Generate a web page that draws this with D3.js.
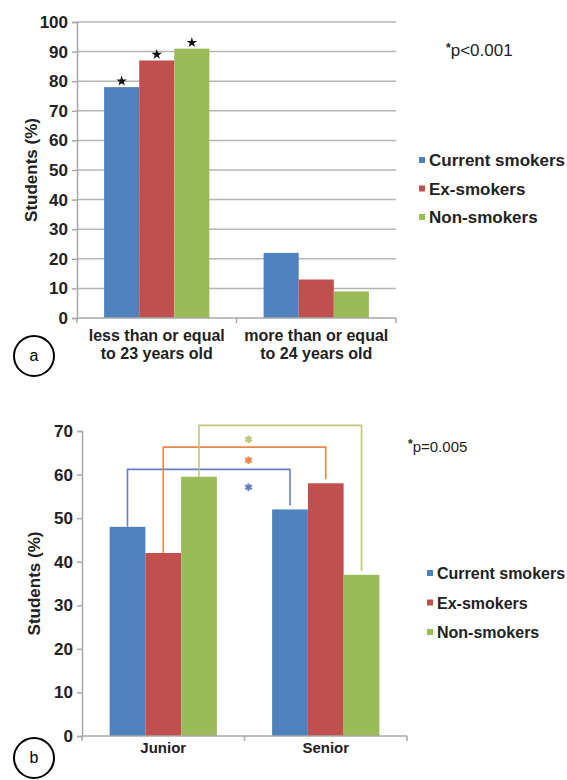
<!DOCTYPE html>
<html>
<head>
<meta charset="utf-8">
<script src="https://cdn.jsdelivr.net/npm/d3@7"></script>
<style>
  body { margin: 0; background: #fff; }
  text { font-family: "Liberation Sans", Arial, sans-serif; fill: #222; }
</style>
</head>
<body>
<svg id="graph" width="567" height="780"></svg>
<script>
// Chart values
var seriesNames = ["Current smokers", "Ex-smokers", "Non-smokers"];
var seriesColors = ["#4f81bd", "#c0504d", "#9bbb59"];

// Panel a: age groups
var categoriesA = ["less than or equal|to 23 years old", "more than or equal|to 24 years old"];
var currentA = [78, 22];
var exA = [87, 13];
var nonA = [91, 9];
var ticksA = [0, 10, 20, 30, 40, 50, 60, 70, 80, 90, 100];

// Panel b: year of study
var categoriesB = ["Junior", "Senior"];
var currentB = [48, 52];
var exB = [42, 58];
var nonB = [59.5, 37];
var ticksB = [0, 10, 20, 30, 40, 50, 60, 70];
// bracket heights (% units) for each series comparison, and star height
var bracketB = [61.2, 66.3, 71.3];
var bracketStarB = [57.1, 63.3, 68.1];
var bracketColors = ["#6a7fc0", "#e8894a", "#c2c67a"];

var svg = d3.select("#graph");

// Draw one grouped bar panel
function panel(opt) {
    var g = svg.append("g");
    var rows = opt.values; // one array per series

    var x0 = d3.scaleBand().domain(d3.range(opt.categories.length))
        .range([opt.left, opt.right]).paddingInner(0.34).paddingOuter(0.17);
    var x1 = d3.scaleBand().domain(d3.range(seriesNames.length)).range([0, x0.bandwidth()]);
    var y = d3.scaleLinear().domain([0, opt.max]).range([opt.bottom, opt.top]);

    // gridlines
    if (opt.grid) {
        g.append("g").selectAll("line").data(opt.ticks.slice(1)).join("line")
            .attr("x1", opt.left).attr("x2", opt.right)
            .attr("y1", d => y(d)).attr("y2", d => y(d))
            .attr("stroke", "#b5b5b5").attr("stroke-width", 1.5);
    }

    // y axis
    var yAxis = d3.axisLeft(y).tickValues(opt.ticks).tickSize(5).tickPadding(4);
    var ya = g.append("g").attr("transform", "translate(" + opt.left + ",0)").call(yAxis);
    ya.select(".domain").attr("stroke", "#a8a8a8").attr("stroke-width", 1.5);
    ya.selectAll(".tick line").attr("stroke", "#a8a8a8").attr("stroke-width", 1.5);
    ya.selectAll("text").attr("font-size", 17).attr("font-weight", "bold").attr("fill", "#222")
        .attr("font-family", "Liberation Sans, Arial, sans-serif");

    // bars
    rows.forEach(function(vals, s) {
        g.append("g").selectAll("rect").data(vals).join("rect")
            .attr("x", (d, i) => x0(i) + x1(s))
            .attr("width", x1.bandwidth())
            .attr("y", d => y(d))
            .attr("height", d => y(0) - y(d))
            .attr("fill", seriesColors[s]);
    });

    // x axis line with tick between categories
    g.append("line").attr("x1", opt.left).attr("x2", opt.right)
        .attr("y1", y(0)).attr("y2", y(0))
        .attr("stroke", "#a8a8a8").attr("stroke-width", 1.5);
    var step = x0.step();
    [opt.left, opt.left + step, opt.right].forEach(function(t) {
        g.append("line").attr("x1", t).attr("x2", t).attr("y1", y(0)).attr("y2", y(0) + 5)
            .attr("stroke", "#a8a8a8").attr("stroke-width", 1.5);
    });

    // category labels
    opt.categories.forEach(function(c, i) {
        var lines = c.split("|");
        var t = g.append("text").attr("text-anchor", "middle")
            .attr("font-size", opt.catSize).attr("font-weight", "bold");
        lines.forEach(function(l, k) {
            t.append("tspan").attr("x", x0(i) + x0.bandwidth() / 2)
                .attr("y", opt.catY + k * 18).text(l);
        });
    });

    // y axis title
    g.append("text").attr("transform", "translate(" + opt.titleX + "," + ((opt.top + opt.bottom) / 2) + ") rotate(-90)")
        .attr("text-anchor", "middle").attr("font-size", 17).attr("font-weight", "bold")
        .text("Students (%)");

    // legend
    seriesNames.forEach(function(n, s) {
        var ly = opt.legendY + s * opt.legendGap;
        g.append("rect").attr("x", opt.legendX).attr("y", ly - 9).attr("width", 6).attr("height", 6)
            .attr("fill", seriesColors[s]);
        g.append("text").attr("x", opt.legendX + 10).attr("y", ly)
            .attr("font-size", opt.legendSize).attr("font-weight", "bold").text(n);
    });

    // p-value note
    var p = g.append("text").attr("x", opt.noteX).attr("y", opt.noteY).attr("font-size", opt.noteSize);
    p.append("tspan").attr("font-size", 12).attr("font-weight", "bold").attr("dy", -4).text("*");
    p.append("tspan").attr("dy", 4).text(opt.note);

    // panel letter in a circle
    g.append("circle").attr("cx", 34).attr("cy", opt.letterY).attr("r", 20)
        .attr("fill", "none").attr("stroke", "#000").attr("stroke-width", 2);
    g.append("text").attr("x", 34).attr("y", opt.letterY + 5).attr("text-anchor", "middle")
        .attr("font-family", "Liberation Serif, serif").attr("font-size", 16).style("fill", "#000")
        .text(opt.letter);

    return {g: g, x0: x0, x1: x1, y: y};
}

// ---------- Panel a ----------
var pa = panel({
    categories: categoriesA, values: [currentA, exA, nonA], ticks: ticksA, max: 100,
    left: 77, right: 396, top: 22, bottom: 318, grid: true,
    catY: 341, catSize: 16, titleX: 37,
    legendX: 419, legendY: 166, legendGap: 28.5, legendSize: 17,
    noteX: 446, noteY: 56, noteSize: 17, note: "p<0.001",
    letter: "a", letterY: 356
});

// significance stars over the first group
[currentA, exA, nonA].forEach(function(vals, s) {
    pa.g.append("path")
        .attr("d", d3.symbol(d3.symbolStar, 34)())
        .attr("transform", "translate(" + (pa.x0(0) + pa.x1(s) + pa.x1.bandwidth() / 2) + "," + (pa.y(vals[0]) - 6) + ")")
        .attr("fill", "#111");
});

// ---------- Panel b ----------
var pb = panel({
    categories: categoriesB, values: [currentB, exB, nonB], ticks: ticksB, max: 70,
    left: 82, right: 407, top: 431, bottom: 736, grid: false,
    catY: 753, catSize: 15, titleX: 40,
    legendX: 427, legendY: 579, legendGap: 29.5, legendSize: 16,
    noteX: 408, noteY: 452, noteSize: 15, note: "p=0.005",
    letter: "b", letterY: 758
});

// brackets joining Junior and Senior bars of the same series
var rowsB = [currentB, exB, nonB];
var midB = pb.x0(1) - (pb.x0.step() - pb.x0.bandwidth()) / 2;
rowsB.forEach(function(vals, s) {
    var xl = pb.x0(0) + pb.x1(s) + pb.x1.bandwidth() / 2;
    var xr = pb.x0(1) + pb.x1(s) + pb.x1.bandwidth() / 2;
    var top = pb.y(bracketB[s]);
    pb.g.append("path")
        .attr("d", "M" + xl + "," + pb.y(vals[0]) + "V" + top + "H" + xr + "V" + (pb.y(vals[1]) - 4))
        .attr("fill", "none").attr("stroke", bracketColors[s]).attr("stroke-width", 1.6);
    pb.g.append("path")
        .attr("d", d3.symbol(d3.symbolAsterisk, 40)())
        .attr("transform", "translate(" + (midB + 4) + "," + pb.y(bracketStarB[s]) + ")")
        .attr("stroke", bracketColors[s]).attr("stroke-width", 2.2).attr("fill", "none");
});
</script>
</body>
</html>
